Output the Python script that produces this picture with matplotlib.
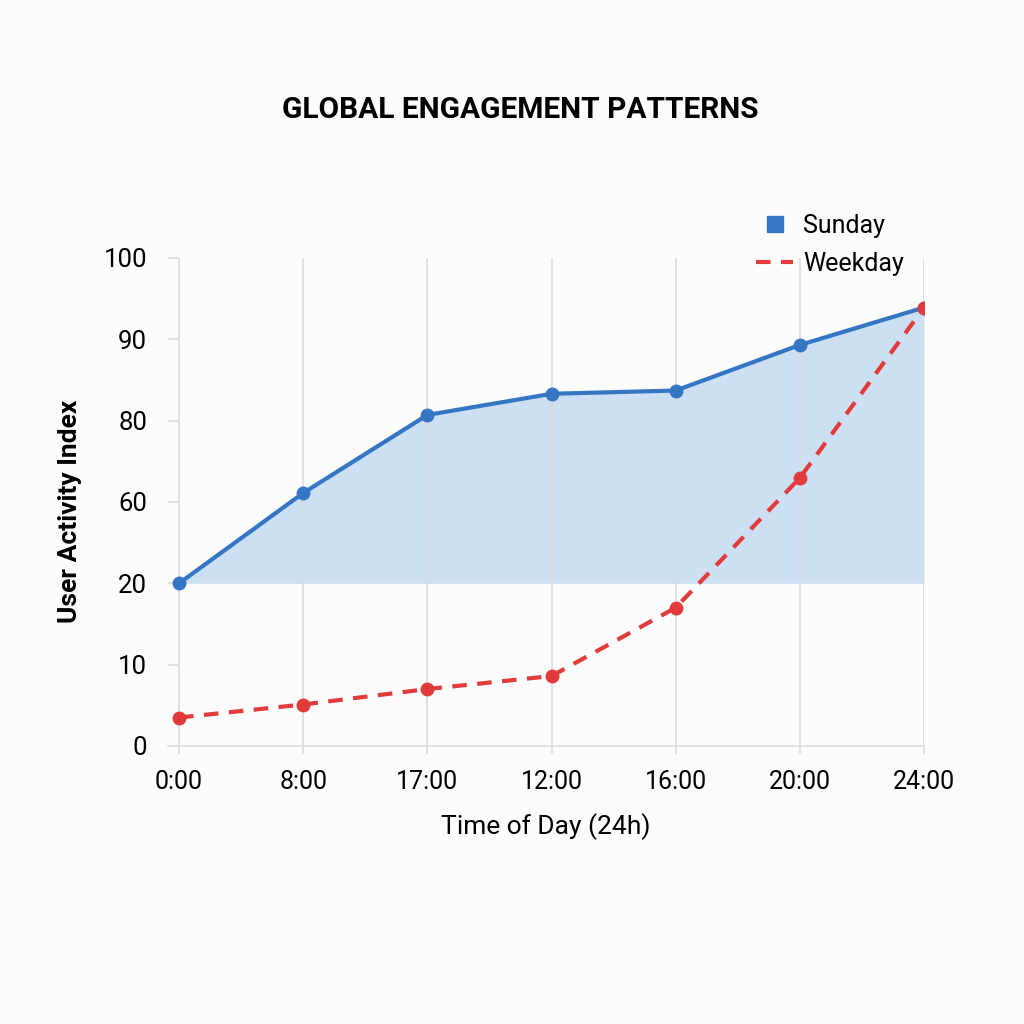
import matplotlib.pyplot as plt
import numpy as np
from matplotlib.lines import Line2D

plt.rcParams["font.family"] = ["Roboto", "DejaVu Sans"]

hours = ["0:00", "8:00", "17:00", "12:00", "16:00", "20:00", "24:00"]
sunday = [20.0, 62.2, 80.7, 83.3, 83.7, 89.3, 93.9]
weekday = [3.5, 5.1, 7.0, 8.6, 17.0, 65.9, 93.9]
y_ticks = [0, 10, 20, 60, 80, 90, 100]
fill_base = 20

BLUE = "#3476c4"
RED = "#e23b3b"
FILL = "#cddff2"
GRID = "#dcdcdc"

# uneven y-axis: tick values are equally spaced on screen
tick_idx = np.arange(len(y_ticks), dtype=float)


def forward(v):
    return np.interp(v, y_ticks, tick_idx)


def inverse(p):
    return np.interp(p, tick_idx, y_ticks)


fig = plt.figure(figsize=(10.24, 10.24), dpi=100, facecolor="#fcfcfc")
ax = fig.add_axes([0.1641, 0.2715, 0.9023 - 0.1641, 0.4766])
ax.set_facecolor("#fcfcfc")
ax.set_yscale("function", functions=(forward, inverse))

x = np.arange(len(hours))
ax.fill_between(x, sunday, fill_base, color=FILL, linewidth=0, zorder=1)
ax.plot(x, sunday, color=BLUE, lw=3, marker="o", ms=9, zorder=3)
ax.plot(x, weekday, color=RED, lw=3, ls=(0, (3.5, 2.5)), marker="o", ms=9, zorder=3)

ax.set_xlim(-0.089, 6)
ax.set_ylim(0, 100)
ax.set_xticks(x)
ax.set_xticklabels(hours, fontsize=18)
ax.set_yticks(y_ticks)
ax.set_yticklabels([str(v) for v in y_ticks], fontsize=18.5)
ax.tick_params(axis="y", direction="in", length=8, color=GRID, width=1.2, pad=15)
ax.tick_params(axis="x", length=6, color=GRID, width=1.2, pad=11)
ax.grid(axis="x", color=GRID, lw=1.2, zorder=0)

for side in ["top", "right", "left"]:
    ax.spines[side].set_visible(False)
ax.spines["bottom"].set_color(GRID)
ax.spines["bottom"].set_linewidth(1.2)

ax.set_xlabel("Time of Day (24h)", fontsize=19, labelpad=14)
ax.set_ylabel("User Activity Index", fontsize=19, fontweight="bold")
ax.yaxis.set_label_coords(-0.114, 0.48)

fig.text(0.508, 0.893, "GLOBAL ENGAGEMENT PATTERNS", fontsize=21.5,
         fontweight="bold", ha="center", va="center")

handles = [
    Line2D([], [], color=BLUE, marker="s", ms=12, ls="none"),
    Line2D([], [], color=RED, lw=3, ls=(0, (3.5, 2.5))),
]
fig.legend(handles, ["Sunday", "Weekday"], loc="upper right",
           bbox_to_anchor=(0.905, 0.813), frameon=False, fontsize=18,
           handlelength=1.5, handletextpad=0.4, labelspacing=0.55)

fig.savefig("out.png", dpi=100, facecolor=fig.get_facecolor())
